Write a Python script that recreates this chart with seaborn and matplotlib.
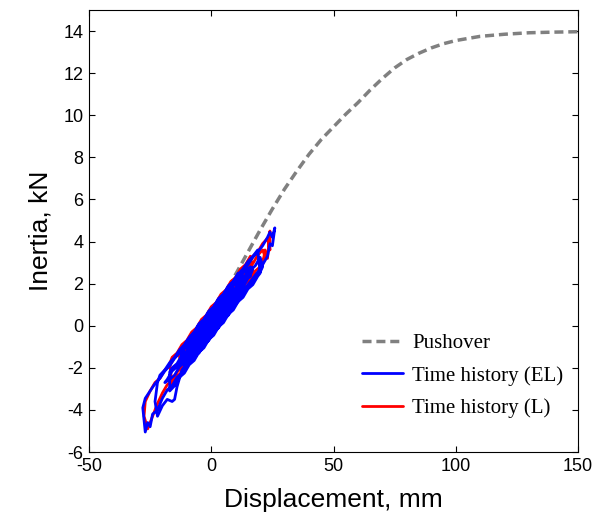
import numpy as np
import pandas as pd
import matplotlib
matplotlib.use("Agg")
import matplotlib.pyplot as plt
import seaborn as sns

# Curva pushover (desplazamiento mm, inercia kN)
push_x = [0, 5, 10, 15, 20, 25, 30, 35, 40, 45, 50, 55, 60, 65, 70, 75,
          80, 85, 90, 95, 100, 110, 120, 130, 140, 150]
push_y = [0.0, 1.3, 2.45, 3.5, 4.55, 5.55, 6.5, 7.35, 8.15, 8.85, 9.45, 10.05,
          10.6, 11.2, 11.75, 12.25, 12.65, 12.95, 13.2, 13.4, 13.55, 13.75,
          13.85, 13.92, 13.95, 13.97]

# Historia temporal (EL): ciclos
el_x = [-6, -4, -2, 0, 2, 4, 6, 8,
        7, 5, 3, 1, -1, -3, -5, -7,
        -7, -5, -3, -1, 1, 3, 5, 7, 9, 11, 13,
        12, 10, 8, 6, 4, 2, 0, -2, -4, -6, -8, -10, -12,
        -12, -10, -8, -6, -4, -2, 0, 2, 4, 6, 8, 10, 12, 14, 16, 17,
        16, 14, 12, 10, 8, 6, 4, 2, 0, -2, -4, -6, -8, -10, -12, -14, -16, -17,
        -17, -15, -13, -11, -9, -7, -5, -3, -1, 1, 3, 5, 7, 9, 11, 13, 15, 17,
        19, 20,
        19, 17, 15, 13, 11, 9, 7, 5, 3, 1, -1, -3, -5, -7, -9, -11, -13, -15,
        -17, -19, -21, -22,
        -23, -22, -20, -18, -16, -15, -14,
        -12, -10, -8, -6, -4, -2, 0, 2, 4, 6, 8, 10, 12, 14, 16, 18, 20, 22,
        23, 24, 25, 26,
        25, 24, 23, 21, 19, 17, 15, 13, 11, 9, 7, 5, 3, 1, -1, -3, -5, -7, -9,
        -11, -13, -15, -17, -19, -21, -23, -25, -27, -28,
        -27, -26, -25, -24, -22,
        -20, -18, -16, -14, -12, -10, -8, -6, -4, -2, 0, 2, 4, 6, 8, 10, 12,
        14, 16, 18, 20, 21,
        20, 18, 16, 14, 12, 10, 8, 6, 4, 2, 0, -2, -4, -6, -8, -10, -12, -14,
        -16, -18, -19,
        -17, -15, -13, -11, -9, -7, -5, -3, -1, 1, 3, 5, 7, 9, 11, 13, 15, 16,
        15, 13, 11, 9, 7, 5, 3, 1, -1, -3, -5, -7, -9, -11, -12,
        -11, -9, -7, -5, -3, -1, 1, 3, 5, 7, 9, 11, 12,
        11, 9, 7, 5, 3, 1, -1, -3, -5, -6,
        -5, -3, -1, 1, 3, 5, 7, 8,
        7, 5, 3, 1, 0]
el_y = [-1.1, -0.75, -0.55, -0.2, 0.15, 0.35, 0.75, 0.95,
        1.6, 1.25, 1.05, 0.65, 0.45, 0.05, -0.15, -0.5,
        -1.5, -1.25, -0.85, -0.65, -0.25, -0.05, 0.35, 0.55, 0.95, 1.15, 1.55,
        2.5, 2.25, 1.85, 1.65, 1.25, 1.05, 0.65, 0.45, 0.05, -0.15, -0.55,
        -0.75, -1.15,
        -1.8, -1.4, -1.2, -0.8, -0.6, -0.2, 0.0, 0.4, 0.6, 1.0, 1.2, 1.6, 1.8,
        2.2, 2.4, 2.7,
        2.8, 2.4, 2.2, 1.8, 1.6, 1.2, 1.0, 0.6, 0.4, 0.0, -0.2, -0.6, -0.8,
        -1.2, -1.4, -1.8, -2.0, -2.2,
        -3.1, -2.85, -2.45, -2.25, -1.85, -1.65, -1.25, -1.05, -0.65, -0.45,
        -0.05, 0.15, 0.55, 0.75, 1.15, 1.35, 1.75, 1.95, 2.35, 2.5,
        3.6, 3.3, 3.05, 2.7, 2.45, 2.1, 1.85, 1.5, 1.25, 0.9, 0.65, 0.3, 0.05,
        -0.3, -0.55, -0.9, -1.15, -1.5, -1.75, -2.1, -2.35, -2.7,
        -3.6, -4.3, -3.8, -3.5, -3.6, -3.5, -2.9,
        -2.1, -1.8, -1.5, -1.2, -0.9, -0.6, -0.3, 0.0, 0.3, 0.6, 0.9, 1.2,
        1.5, 1.8, 2.1, 2.4, 2.7, 3.1, 3.3, 3.9, 3.8, 4.65,
        4.2, 4.45, 4.2, 3.8, 3.5, 3.25, 2.9, 2.65, 2.3, 2.05, 1.7, 1.45, 1.1,
        0.85, 0.5, 0.25, -0.1, -0.35, -0.7, -0.95, -1.3, -1.55, -1.9, -2.15,
        -2.5, -2.75, -3.1, -3.45, -3.9,
        -5.05, -4.6, -4.8, -4.2, -4.0,
        -3.45, -3.05, -2.85, -2.45, -2.25, -1.85, -1.65, -1.25, -1.05, -0.65,
        -0.45, -0.05, 0.15, 0.55, 0.75, 1.15, 1.35, 1.75, 1.95, 2.35, 2.55,
        2.8,
        3.25, 2.85, 2.65, 2.25, 2.05, 1.65, 1.45, 1.05, 0.85, 0.45, 0.25,
        -0.15, -0.35, -0.75, -0.95, -1.35, -1.55, -1.95, -2.15, -2.55, -2.7,
        -2.55, -2.35, -1.95, -1.75, -1.35, -1.15, -0.75, -0.55, -0.15, 0.05,
        0.45, 0.65, 1.05, 1.25, 1.65, 1.85, 2.25, 2.35,
        2.75, 2.5, 2.1, 1.9, 1.5, 1.3, 0.9, 0.7, 0.3, 0.1, -0.3, -0.5, -0.9,
        -1.1, -1.3,
        -1.85, -1.45, -1.25, -0.85, -0.65, -0.25, -0.05, 0.35, 0.55, 0.95, 1.15,
        1.55, 1.7,
        2.5, 2.1, 1.9, 1.5, 1.3, 0.9, 0.7, 0.3, 0.1, -0.1,
        -1.3, -0.9, -0.7, -0.3, -0.1, 0.3, 0.5, 0.7,
        1.2, 0.95, 0.55, 0.35, 0.15]

# Historia temporal (L)
l_x = [0, 2, 4, 6, 8, 10, 12, 14, 16, 17,
       16, 14, 12, 10, 8, 6, 4, 2, 0, -2, -4, -6, -8, -10, -12, -14, -16, -17,
       -16, -14, -12, -10, -8, -6, -4, -2, 0, 2, 4, 6, 8, 10, 12, 14, 16, 18,
       20, 21, 22, 23, 24, 24,
       23, 21, 19, 17, 15, 13, 11, 9, 7, 5, 3, 1, -1, -3, -5, -7, -9, -11, -13,
       -15, -17, -19, -21, -23, -25, -27, -27.5,
       -26, -24, -22,
       -20, -18, -16, -14, -12, -10, -8, -6, -4, -2, 0, 2, 4, 6, 8, 10, 12,
       14, 16, 18, 20, 22,
       21, 19, 17, 15, 13, 11, 9, 7, 5, 3, 1, -1, -3, -5, -7, -9, -11, -13,
       -12, -10, -8, -6, -4, -2, 0, 2, 4, 6, 8, 10,
       9, 7, 5, 3, 1, -1, -3]
l_y = [-0.1, 0.25, 0.45, 0.85, 1.05, 1.45, 1.65, 2.05, 2.25, 2.5,
       3.3, 2.9, 2.7, 2.3, 2.1, 1.7, 1.5, 1.1, 0.9, 0.5, 0.3, -0.1, -0.3,
       -0.7, -0.9, -1.3, -1.5, -1.8,
       -2.8, -2.4, -2.2, -1.8, -1.6, -1.2, -1.0, -0.6, -0.4, 0.0, 0.2, 0.6,
       0.8, 1.2, 1.4, 1.8, 2.0, 2.4, 2.6, 2.9, 3.6, 3.2, 4.5, 3.6,
       4.15, 3.9, 3.5, 3.3, 2.9, 2.7, 2.3, 2.1, 1.7, 1.5, 1.1, 0.9, 0.5, 0.3,
       -0.1, -0.3, -0.7, -0.9, -1.3, -1.5, -1.9, -2.1, -2.5, -2.7, -3.1, -3.6,
       -4.3,
       -4.9, -4.3, -3.7,
       -3.2, -2.8, -2.6, -2.2, -2.0, -1.6, -1.4, -1.0, -0.8, -0.4, -0.2, 0.2,
       0.4, 0.8, 1.0, 1.4, 1.6, 2.0, 2.2, 2.6, 2.8, 3.3,
       3.6, 3.35, 2.95, 2.75, 2.35, 2.15, 1.75, 1.55, 1.15, 0.95, 0.55, 0.35,
       -0.05, -0.25, -0.65, -0.85, -1.25, -1.45,
       -2.25, -1.85, -1.65, -1.25, -1.05, -0.65, -0.45, -0.05, 0.15, 0.55,
       0.75, 1.15,
       1.95, 1.7, 1.3, 1.1, 0.7, 0.5, 0.1]

sns.set_style("ticks")
plt.rcParams['font.family'] = ['Liberation Sans', 'DejaVu Sans']
plt.rcParams['axes.unicode_minus'] = False
plt.rcParams['text.color'] = 'black'
plt.rcParams['axes.labelcolor'] = 'black'
plt.rcParams['xtick.color'] = 'black'
plt.rcParams['ytick.color'] = 'black'

fig = plt.figure(figsize=(6.08, 5.17), dpi=100)
ax = fig.add_axes([0.1464, 0.1257, 0.8043, 0.8549])

df_push = pd.DataFrame({'x': push_x, 'y': push_y})
df_el = pd.DataFrame({'x': el_x, 'y': el_y})
df_l = pd.DataFrame({'x': l_x, 'y': l_y})

sns.lineplot(data=df_push, x='x', y='y', sort=False, estimator=None, ax=ax,
             color='#808080', linewidth=2.5, linestyle=(0, (2.6, 1.4)),
             label='Pushover')
sns.lineplot(data=df_l, x='x', y='y', sort=False, estimator=None, ax=ax,
             color='#ff0000', linewidth=0.75, label='Time history (L)')
sns.lineplot(data=df_el, x='x', y='y', sort=False, estimator=None, ax=ax,
             color='#0000ff', linewidth=0.75, label='Time history (EL)')

ax.set_xlim(-50, 150)
ax.set_ylim(-6, 15)
ax.set_xticks([-50, 0, 50, 100, 150])
ax.set_yticks(np.arange(-6, 15, 2))
ax.tick_params(direction='in', top=True, right=True, length=4, width=0.8,
               labelsize=13, pad=4)
for s in ax.spines.values():
    s.set_linewidth(0.8)
    s.set_color('black')

ax.set_xlabel('Displacement, mm', fontsize=19, labelpad=10)
ax.set_ylabel('Inertia, kN', fontsize=19, labelpad=8)

# Leyenda: Pushover, EL, L
handles, labels = ax.get_legend_handles_labels()
order = [labels.index('Pushover'), labels.index('Time history (EL)'),
         labels.index('Time history (L)')]
h = [handles[i] for i in order]
for hh in h[1:]:
    hh.set_linewidth(2.0)
ax.legend(h, [labels[i] for i in order], loc='upper left',
          bbox_to_anchor=(0.52, 0.31), frameon=False,
          prop={'family': 'Liberation Serif', 'size': 15},
          handlelength=1.95, labelspacing=0.6, handletextpad=0.45)

plt.savefig('out.png', dpi=100)
